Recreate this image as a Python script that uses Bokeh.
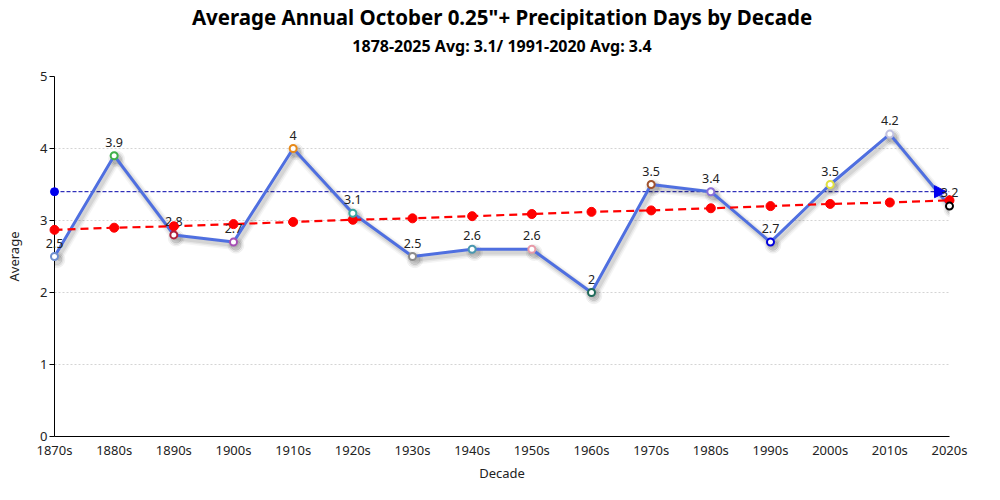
from bokeh.plotting import figure
from bokeh.models import (ColumnDataSource, Title, Arrow, NormalHead, FixedTicker,
                          Range1d)
from bokeh.transform import dodge
from bokeh.core.properties import value
from bokeh.embed import file_html
from bokeh.resources import INLINE

# ---- data ----
decades = ["1870s", "1880s", "1890s", "1900s", "1910s", "1920s", "1930s", "1940s",
           "1950s", "1960s", "1970s", "1980s", "1990s", "2000s", "2010s", "2020s"]
averages = [2.5, 3.9, 2.8, 2.7, 4.0, 3.1, 2.5, 2.6, 2.6, 2.0, 3.5, 3.4, 2.7, 3.5, 4.2, 3.2]
labels = ["2.5", "3.9", "2.8", "2.7", "4", "3.1", "2.5", "2.6", "2.6", "2",
          "3.5", "3.4", "2.7", "3.5", "4.2", "3.2"]
marker_colors = ["#6f8fcf", "#3fb04a", "#b0203c", "#a64fb5", "#e88a1a", "#3aa8a0",
                 "#8c8c8c", "#4a98b0", "#e89aa8", "#1f6a5a", "#a0522d", "#8a6fd8",
                 "#0000dd", "#e0e040", "#c0c0e0", "#000000"]
trend = [2.87, 2.90, 2.92, 2.95, 2.98, 3.01, 3.03, 3.06, 3.09, 3.12, 3.14, 3.17,
         3.20, 3.23, 3.25, 3.28]
normal_1991_2020 = 3.4
y_ticks = [0, 1, 2, 3, 4, 5]

FONT = "Noto Sans"
idx = list(range(len(decades)))

src = ColumnDataSource(dict(x=idx, y=averages, lab=labels, col=marker_colors, trend=trend))

p = figure(width=984, height=484, output_backend="svg", toolbar_location=None,
           x_range=Range1d(0, len(decades) - 1), y_range=Range1d(0, 5),
           min_border_left=54, min_border_right=35, min_border_bottom=47, min_border_top=10)

p.outline_line_color = None
p.border_fill_color = "white"

# titles (spacer closest to the frame, then subtitle, then main title)
spacer = Title(text=" ", text_font_size="1px", standoff=12, text_color="white")
sub = Title(text="1878-2025 Avg: 3.1/ 1991-2020 Avg: 3.4", align="center",
            text_font=FONT, text_font_size="16px", text_font_style="bold",
            text_color="black", standoff=6, vertical_align="top")
main = Title(text='Average Annual October 0.25"+ Precipitation Days by Decade', align="center",
             text_font=FONT, text_font_size="20.5px", text_font_style="bold",
             text_color="black", standoff=1)
p.add_layout(spacer, "above")
p.add_layout(sub, "above")
p.add_layout(main, "above")

# axes
p.xaxis.ticker = FixedTicker(ticks=idx)
p.xaxis.major_label_overrides = {i: d for i, d in zip(idx, decades)}
p.yaxis.ticker = FixedTicker(ticks=y_ticks)
for ax in (p.xaxis, p.yaxis):
    ax.axis_line_color = "black"
    ax.major_label_text_font = FONT
    ax.major_label_text_font_size = "13px"
    ax.major_label_text_color = "#222222"
    ax.axis_label_text_font = FONT
    ax.axis_label_text_font_size = "13px"
    ax.axis_label_text_font_style = "normal"
    ax.axis_label_text_color = "#222222"
    ax.minor_tick_line_color = None
p.xaxis.major_tick_line_color = None
p.xaxis.major_tick_in = 0
p.xaxis.major_tick_out = 0
p.xaxis.major_label_standoff = 4
p.xaxis.axis_label_standoff = 2
p.yaxis.major_tick_in = 0
p.yaxis.major_tick_out = 5
p.yaxis.major_label_standoff = 2
p.yaxis.axis_label_standoff = 14
p.yaxis.major_tick_line_color = "black"
p.xaxis.axis_label = "Decade"
p.yaxis.axis_label = "Average"

p.xgrid.grid_line_color = None
p.ygrid.grid_line_color = "#d4d4d4"
p.ygrid.grid_line_dash = "2 2"

# 1991-2020 normal line with dot and arrow
p.line(x=[idx[0], idx[-1]], y=[normal_1991_2020, normal_1991_2020],
       line_color="#0000aa", line_width=1, line_dash="4 2")
p.scatter(x=[idx[0]], y=[normal_1991_2020], size=8, color="#0000ee", level="overlay")
p.add_layout(Arrow(end=NormalHead(size=12, fill_color="#0000ee", line_color="#0000ee"),
                   line_alpha=0, x_start=idx[-1] - 0.4, y_start=normal_1991_2020,
                   x_end=idx[-1] - 0.05, y_end=normal_1991_2020))

# soft shadow of main line
for w, a in ((10, 0.04), (7, 0.06), (4, 0.08)):
    p.line(x=dodge("x", 0.04), y=dodge("y", -0.045), source=src,
           line_color="#000000", line_width=w, line_alpha=a, line_join="round")
    p.scatter(x=dodge("x", 0.04), y=dodge("y", -0.045), source=src, size=w + 6,
              color="#000000", alpha=a)

# main line
p.line("x", "y", source=src, line_color="#4f6fe0", line_width=3)

# value labels
p.text("x", "y", text="lab", source=src, text_align="center", text_baseline="bottom",
       y_offset=-9, text_font=value(FONT), text_font_size="12.5px", text_color="#222222",
       level="overlay")

# trend line
p.line("x", "trend", source=src, line_color="#ff0000", line_width=2.2, line_dash="8 5")
p.scatter("x", "trend", source=src, size=9, color="#ff0000", level="overlay")

# main markers
p.scatter("x", "y", source=src, size=7, fill_color="white", line_color="col",
          line_width=2, level="overlay")

open("out.html", "w").write(file_html(p, INLINE))
